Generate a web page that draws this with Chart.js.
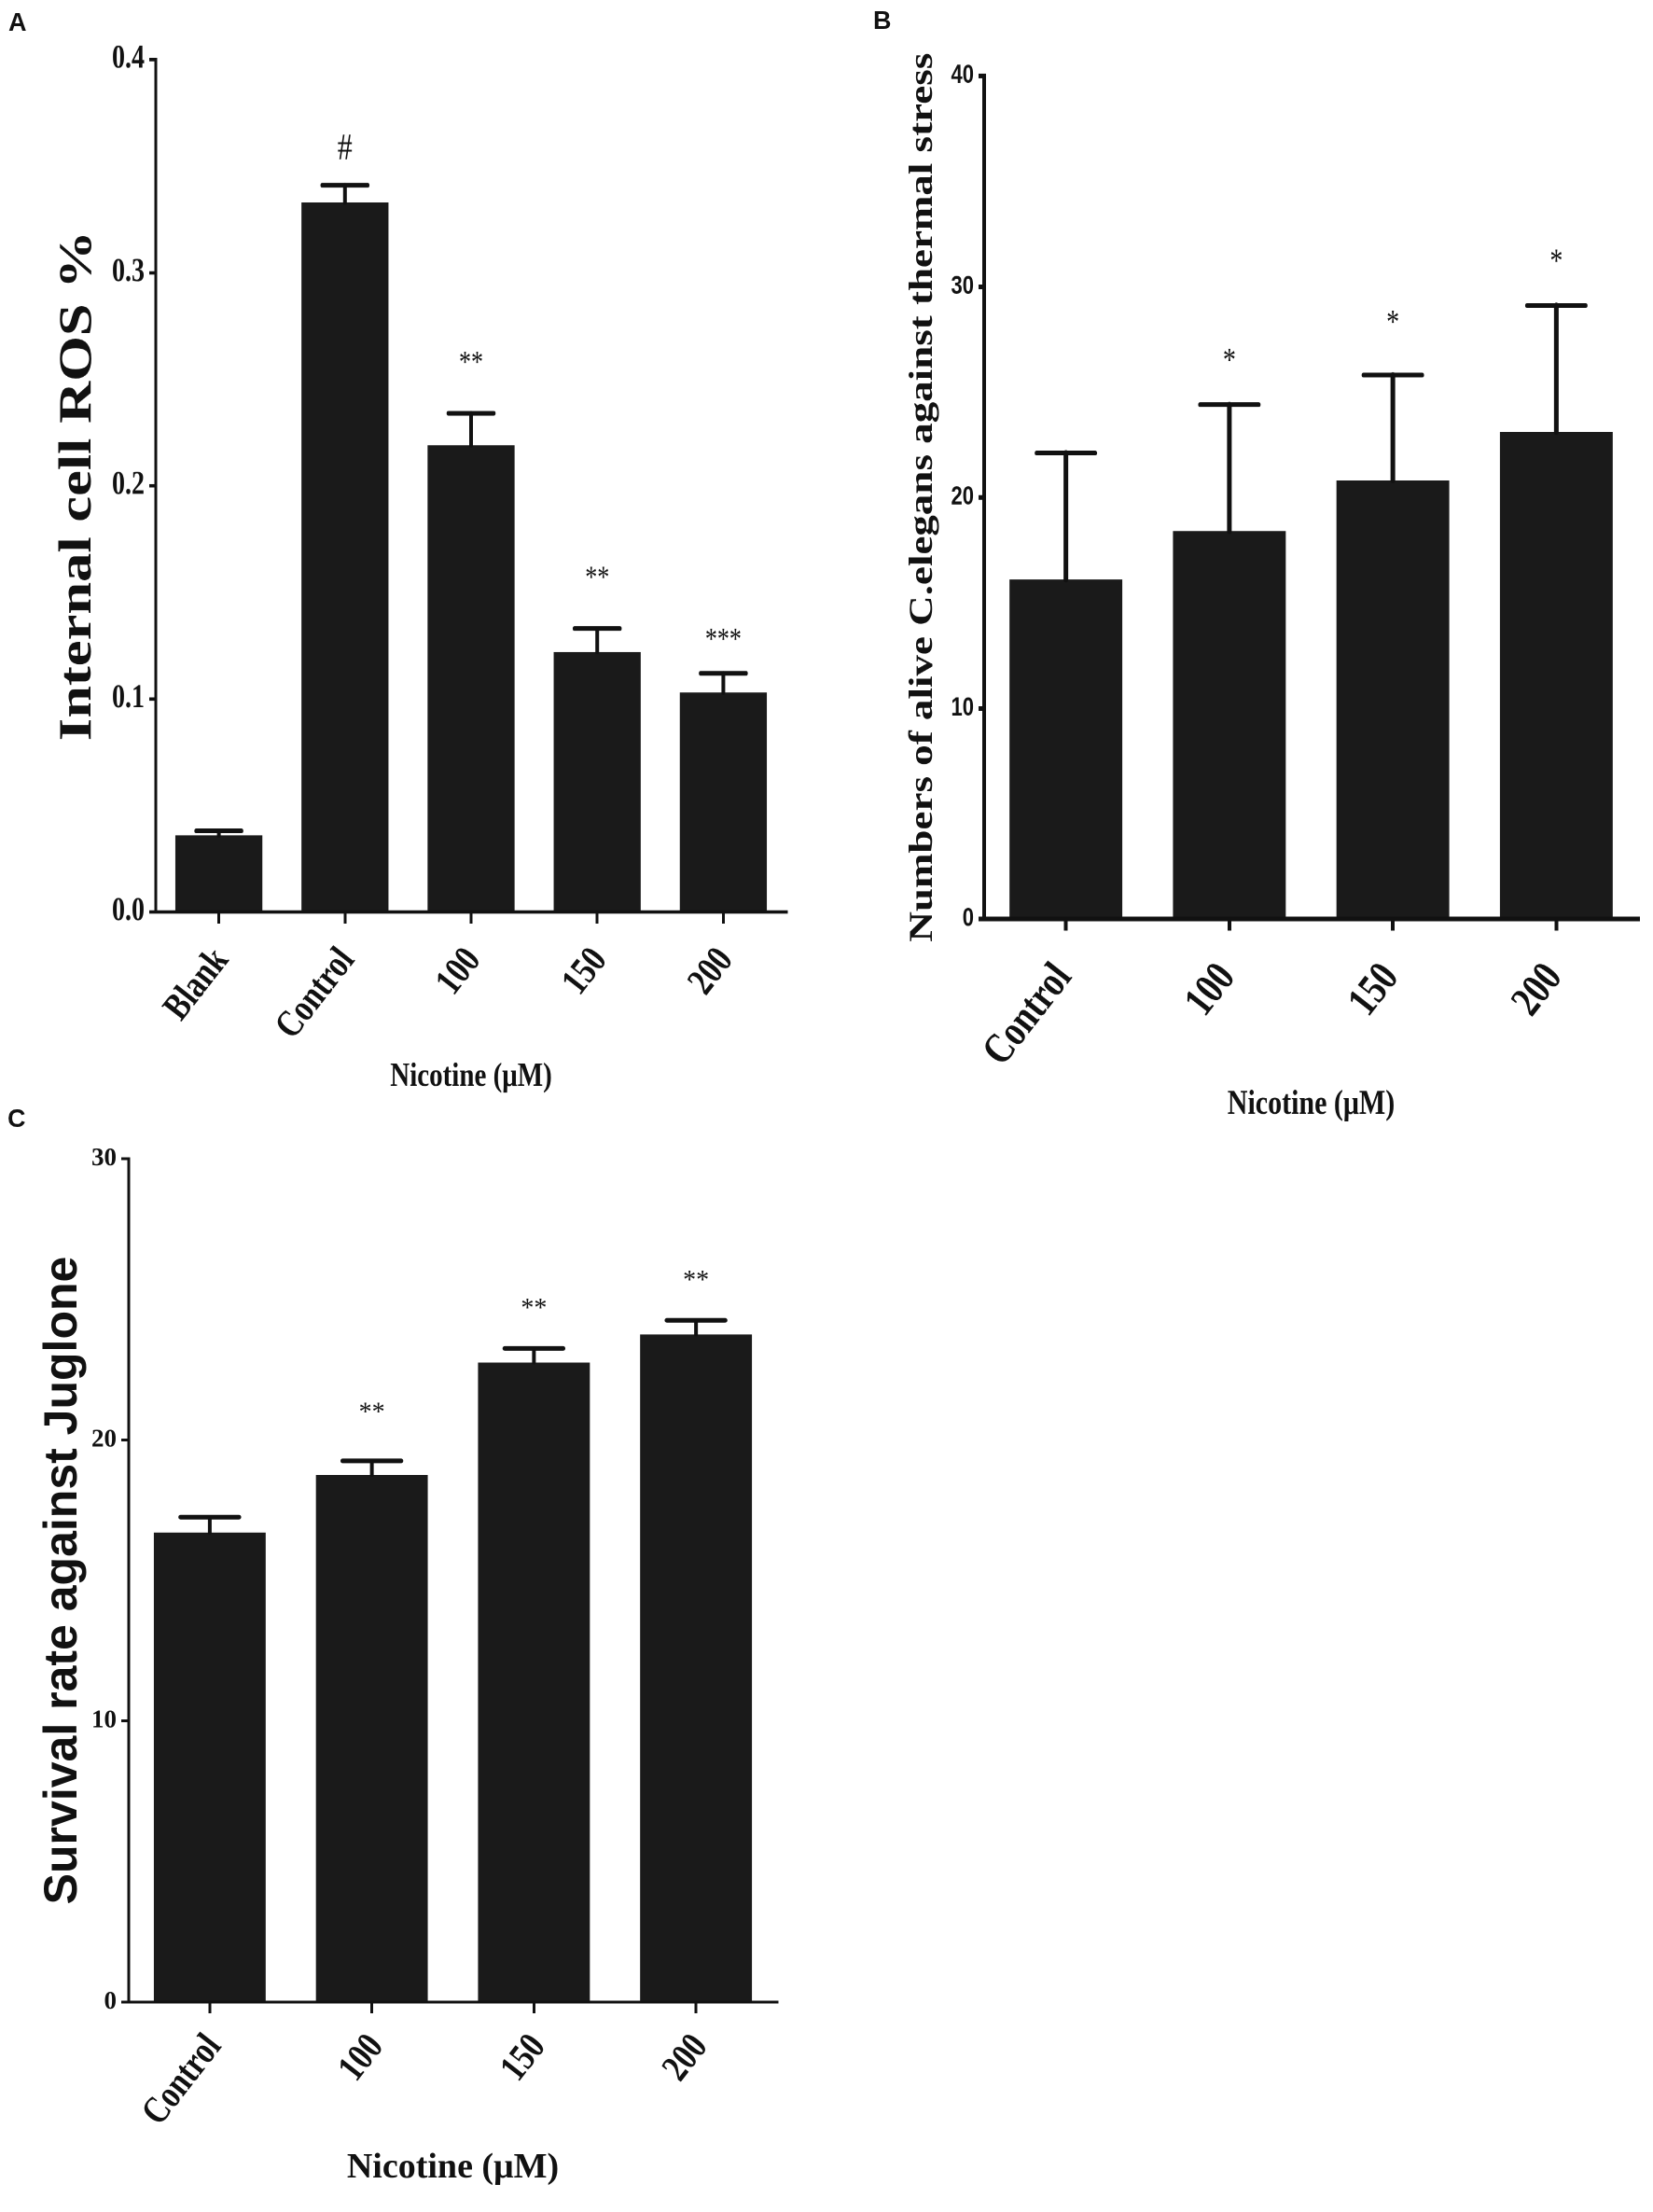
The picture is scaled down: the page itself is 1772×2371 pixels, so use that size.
<!DOCTYPE html>
<html>
<head>
<meta charset="utf-8">
<script src="https://cdn.jsdelivr.net/npm/chart.js@4/dist/chart.umd.min.js"></script>
<style>
  body { margin: 0; background: #fff; width: 1772px; height: 2371px; position: relative; overflow: hidden; }
  canvas { position: absolute; }
  .tag { position: absolute; font: bold 27px "Liberation Sans", Arial, sans-serif; line-height: 27px; color: #111; }
</style>
</head>
<body>
<!-- A and B are drawn short and stretched in height, the way the source figure was -->
<canvas id="chart-a" width="880" height="952" style="left:0;top:0;width:880px;height:1190px"></canvas>
<canvas id="chart-b" width="892" height="984" style="left:880px;top:0;width:892px;height:1230px"></canvas>
<canvas id="chart-c" width="880" height="1181" style="left:0;top:1190px;width:880px;height:1181px"></canvas>
<div class="tag" style="left:9px;top:11px">A</div>
<div class="tag" style="left:936px;top:9px">B</div>
<div class="tag" style="left:8px;top:1186px">C</div>
<script>
// A - internal ROS
const groupsA = ["Blank", "Control", "100", "150", "200"];
const rosMean = [0.036, 0.333, 0.219, 0.122, 0.103];
const rosErrTop = [0.038, 0.341, 0.234, 0.133, 0.112];
const rosMarks = ["", "#", "**", "**", "***"];
const rosMarkAt = [null, 0.359, 0.260, 0.159, 0.130];
const rosTicks = ["0.0", "0.1", "0.2", "0.3", "0.4"];

// B - thermal stress
const groupsB = ["Control", "100", "150", "200"];
const aliveMean = [16.1, 18.4, 20.8, 23.1];
const aliveErrTop = [22.1, 24.4, 25.8, 29.1];
const aliveMarks = ["", "*", "*", "*"];
const aliveMarkAt = [null, 26.7, 28.5, 31.4];
const aliveTicks = ["0", "10", "20", "30", "40"];

// C - juglone
const groupsC = ["Control", "100", "150", "200"];
const survivalMean = [16.7, 18.75, 22.75, 23.75];
const survivalErrTop = [17.25, 19.25, 23.25, 24.25];
const survivalMarks = ["", "**", "**", "**"];
const survivalMarkAt = [null, 21.1, 24.8, 25.8];
const survivalTicks = ["0", "10", "20", "30"];

const SERIF = "'Liberation Serif', 'Times New Roman', serif";
const SANS = "'Liberation Sans', Arial, sans-serif";
const INK = "#111";
const LABEL_ANGLE = 52 * Math.PI / 180;

// error bars (upper only), significance marks and the slanted category labels
function barExtras(errTop, marks, markAt, st) {
  return {
    id: "barExtras",
    afterDatasetsDraw(chart) {
      const ctx = chart.ctx;
      const y = chart.scales.y;
      const meta = chart.getDatasetMeta(0);
      ctx.save();
      ctx.strokeStyle = INK;
      ctx.fillStyle = INK;
      ctx.lineCap = "round";
      meta.data.forEach((bar, i) => {
        const top = y.getPixelForValue(errTop[i]);
        const half = bar.width * 0.26;
        ctx.lineWidth = st.stem;
        ctx.beginPath();
        ctx.moveTo(bar.x, bar.y);
        ctx.lineTo(bar.x, top);
        ctx.stroke();
        ctx.lineWidth = st.cap;
        ctx.beginPath();
        ctx.moveTo(bar.x - half, top);
        ctx.lineTo(bar.x + half, top);
        ctx.stroke();

        if (!marks[i]) return;
        const size = marks[i] === "#" ? st.hashSize : st.markSize;
        ctx.font = size + "px " + SERIF;
        ctx.textAlign = "center";
        ctx.textBaseline = "alphabetic";
        const m = ctx.measureText(marks[i]);
        const cy = y.getPixelForValue(markAt[i]);
        ctx.fillText(marks[i], bar.x, cy + (m.actualBoundingBoxAscent - m.actualBoundingBoxDescent) / 2);
      });
      ctx.restore();
    },
    afterDraw(chart) {
      // category labels: rotated, tall glyphs, undo the canvas stretch so they are not sheared
      const ctx = chart.ctx;
      const xs = chart.scales.x;
      chart.data.labels.forEach((label, i) => {
        ctx.save();
        ctx.translate(xs.getPixelForTick(i) + st.labelDx, xs.top + st.labelDy / st.stretch);
        ctx.scale(1, 1 / st.stretch);
        ctx.rotate(-LABEL_ANGLE);
        ctx.scale(1, 1.25);
        ctx.font = "bold " + st.labelSize + "px " + SERIF;
        ctx.fillStyle = INK;
        ctx.textAlign = "right";
        ctx.textBaseline = "middle";
        ctx.fillText(label, 0, 0);
        ctx.restore();
      });
    }
  };
}

function makeChart(id, o) {
  const axis = (w, len) => ({
    display: true, offset: false, drawOnChartArea: false, drawTicks: true,
    tickLength: len, color: INK, lineWidth: w
  });
  return new Chart(document.getElementById(id), {
    type: "bar",
    data: {
      labels: o.labels,
      datasets: [{
        data: o.values,
        backgroundColor: "#1a1a1a",
        borderWidth: 0,
        barPercentage: 0.69,
        categoryPercentage: 1
      }]
    },
    options: {
      responsive: false,
      animation: false,
      devicePixelRatio: 2,
      events: [],
      layout: { padding: o.padding },
      plugins: { legend: { display: false }, tooltip: { enabled: false } },
      scales: {
        x: {
          grid: axis(o.axisWidth, o.xTickLen),
          border: { display: true, color: INK, width: o.axisWidth },
          ticks: { display: false },
          title: { display: true, text: "Nicotine (\u03bcM)", font: o.xTitleFont, color: INK, padding: 0 },
          afterFit: (s) => { s.height = o.xHeight; }
        },
        y: {
          min: 0,
          max: o.yMax,
          grid: axis(o.axisWidth, o.yTickLen),
          border: { display: true, color: INK, width: o.axisWidth },
          ticks: {
            stepSize: o.yStep,
            font: o.yTickFont,
            color: INK,
            padding: 5,
            callback: (v, i) => o.yTicks[i]
          },
          title: { display: true, text: o.yTitle, font: o.yTitleFont, color: INK, padding: 0 },
          afterFit: (s) => { s.width = o.yWidth; }
        }
      }
    },
    plugins: [barExtras(o.errTop, o.marks, o.markAt, o.extras)]
  });
}

makeChart("chart-a", {
  labels: groupsA, values: rosMean, errTop: rosErrTop, marks: rosMarks, markAt: rosMarkAt,
  yTicks: rosTicks, yMax: 0.4, yStep: 0.1,
  yTitle: "Internal cell ROS %",
  padding: { left: 54, top: 51, right: 37, bottom: 11 },
  yWidth: 113, xHeight: 159,
  axisWidth: 3, xTickLen: 10, yTickLen: 7,
  yTickFont: { family: SERIF, size: 28, weight: "bold" },
  xTitleFont: { family: SERIF, size: 29, weight: "bold" },
  yTitleFont: { family: SERIF, size: 50, weight: "bold" },
  extras: { stem: 4, cap: 4, markSize: 26, hashSize: 32, stretch: 1.25, labelSize: 33, labelDx: 3, labelDy: 45 }
});

makeChart("chart-b", {
  labels: groupsB, values: aliveMean, errTop: aliveErrTop, marks: aliveMarks, markAt: aliveMarkAt,
  yTicks: aliveTicks, yMax: 40, yStep: 10,
  yTitle: "Numbers of alive C.elegans against thermal stress",
  padding: { left: 88, top: 65, right: 16, bottom: 19 },
  yWidth: 87, xHeight: 177,
  axisWidth: 4, xTickLen: 10, yTickLen: 6,
  yTickFont: { family: SANS, size: 22, weight: "bold" },
  xTitleFont: { family: SERIF, size: 30, weight: "bold" },
  yTitleFont: { family: SERIF, size: 36, weight: "bold" },
  extras: { stem: 5, cap: 4, markSize: 28, hashSize: 28, stretch: 1.25, labelSize: 37, labelDx: -2, labelDy: 55 }
});

makeChart("chart-c", {
  labels: groupsC, values: survivalMean, errTop: survivalErrTop, marks: survivalMarks, markAt: survivalMarkAt,
  yTicks: survivalTicks, yMax: 30, yStep: 10,
  yTitle: "Survival rate against Juglone",
  padding: { left: 38, top: 52, right: 47, bottom: 24 },
  yWidth: 100, xHeight: 201,
  axisWidth: 3, xTickLen: 12, yTickLen: 8,
  yTickFont: { family: SERIF, size: 27, weight: "bold" },
  xTitleFont: { family: SERIF, size: 38, weight: "bold" },
  yTitleFont: { family: SANS, size: 50, weight: "bold" },
  extras: { stem: 4, cap: 5, markSize: 28, hashSize: 28, stretch: 1, labelSize: 33, labelDx: 5, labelDy: 41 }
});
</script>
</body>
</html>
